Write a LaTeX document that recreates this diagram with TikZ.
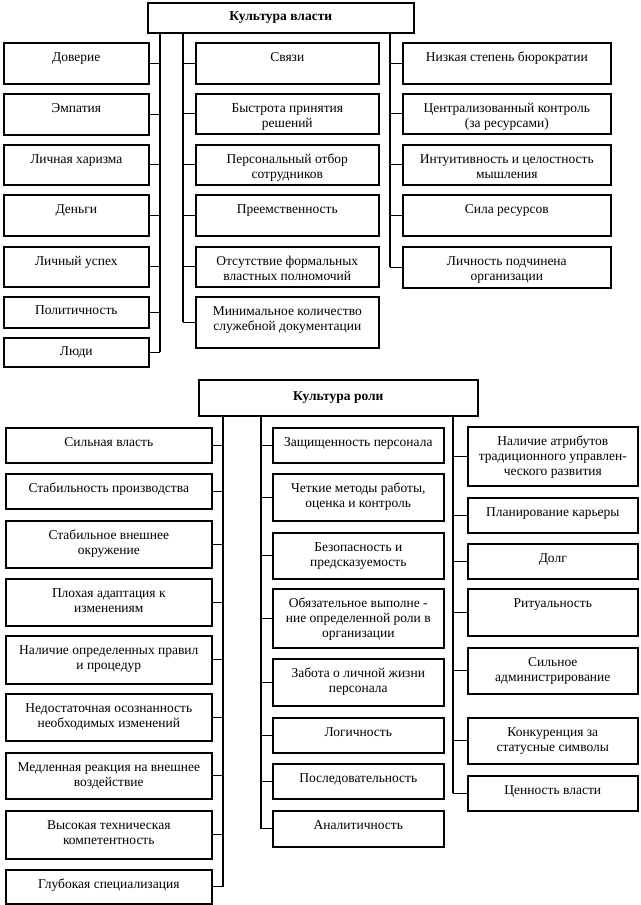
\documentclass[tikz,border=0pt]{standalone}
\usepackage{fontspec}
\setmainfont{Liberation Serif}
\usepackage{tikz}
\usetikzlibrary{calc}
\usepackage{xcolor}

\begin{document}
\begin{tikzpicture}[x=1pt,y=-1pt,font=\fontsize{13.5}{15}\selectfont]
    \tikzstyle{box}=[draw,line width=1.6pt,anchor=north west,inner sep=0pt]
    \tikzstyle{txt}=[anchor=north,yshift=-8pt,inner sep=2pt,align=center]
    \tikzstyle{bus}=[draw,line width=1.2pt]
    \useasboundingbox[fill=white] (0,0) rectangle (640,905);

% culture of power
    \node(T1)[box,minimum width=266,minimum height=30] at (147,2) {\textbf{Культура власти}};
    \coordinate (ta) at (160,0);
    \coordinate (tb) at (183,0);
    \coordinate (tc) at (390,0);

    \node(a1)[box,minimum width=145,minimum height=41,label={[txt]north:Доверие}] at (3,42) {};
    \node(a2)[box,minimum width=145,minimum height=41,label={[txt]north:Эмпатия}] at (3,93) {};
    \node(a3)[box,minimum width=145,minimum height=40,label={[txt]north:Личная харизма}] at (3,144) {};
    \node(a4)[box,minimum width=145,minimum height=41,label={[txt]north:Деньги}] at (3,194) {};
    \node(a5)[box,minimum width=145,minimum height=40,label={[txt]north:Личный успех}] at (3,246) {};
    \node(a6)[box,minimum width=145,minimum height=31,label={[txt,yshift=1pt]north:Политичность}] at (3,296) {};
    \node(a7)[box,minimum width=145,minimum height=29,label={[txt,yshift=1pt]north:Люди}] at (3,337) {};

    \node(b1)[box,minimum width=183,minimum height=41,label={[txt]north:Связи}] at (195,42) {};
    \node(b2)[box,minimum width=183,minimum height=40,label={[txt]north:Быстрота принятия\\решений}] at (195,93) {};
    \node(b3)[box,minimum width=183,minimum height=40,label={[txt]north:Персональный отбор\\сотрудников}] at (195,144) {};
    \node(b4)[box,minimum width=183,minimum height=41,label={[txt]north:Преемственность}] at (195,194) {};
    \node(b5)[box,minimum width=183,minimum height=40,label={[txt]north:Отсутствие формальных\\властных полномочий}] at (195,246) {};
    \node(b6)[box,minimum width=183,minimum height=51,label={[txt]north:Минимальное количество\\служебной документации}] at (195,296) {};

    \node(c1)[box,minimum width=208,minimum height=41,label={[txt]north:Низкая степень бюрократии}] at (402,42) {};
    \node(c2)[box,minimum width=208,minimum height=40,label={[txt]north:Централизованный контроль\\(за ресурсами)}] at (402,93) {};
    \node(c3)[box,minimum width=208,minimum height=40,label={[txt]north:Интуитивность и целостность\\мышления}] at (402,144) {};
    \node(c4)[box,minimum width=208,minimum height=41,label={[txt]north:Сила ресурсов}] at (402,194) {};
    \node(c5)[box,minimum width=208,minimum height=41,label={[txt]north:Личность подчинена\\организации}] at (402,246) {};

% buses
    \draw[bus] (T1.south -| ta) -- (a7.east -| ta);
    \draw[bus] (T1.south -| tb) -- (b6.west -| tb);
    \draw[bus] (T1.south -| tc) -- (c5.west -| tc);
    \foreach \n in {a1,a2,a3,a4,a5,a6,a7} \draw[bus] (\n.east) -- (\n.east -| ta);
    \foreach \n in {b1,b2,b3,b4,b5,b6} \draw[bus] (\n.west) -- (\n.west -| tb);
    \foreach \n in {c1,c2,c3,c4,c5} \draw[bus] (\n.west) -- (\n.west -| tc);

% culture of role
    \node(T2)[box,minimum width=279,minimum height=36] at (198,379) {\textbf{Культура роли}};
    \coordinate (td) at (223,0);
    \coordinate (te) at (261,0);
    \coordinate (tf) at (453,0);

    \node(d1)[box,minimum width=206,minimum height=35,label={[txt]north:Сильная власть}] at (5,427) {};
    \node(d2)[box,minimum width=206,minimum height=35,label={[txt]north:Стабильность производства}] at (5,473) {};
    \node(d3)[box,minimum width=206,minimum height=47,label={[txt]north:Стабильное внешнее\\окружение}] at (5,520) {};
    \node(d4)[box,minimum width=206,minimum height=47,label={[txt]north:Плохая адаптация к\\изменениям}] at (5,578) {};
    \node(d5)[box,minimum width=206,minimum height=48,label={[txt]north:Наличие определенных правил\\и процедур}] at (5,635) {};
    \node(d6)[box,minimum width=206,minimum height=47,label={[txt]north:Недостаточная осознанность\\необходимых изменений}] at (5,693) {};
    \node(d7)[box,minimum width=206,minimum height=46,label={[txt]north:Медленная реакция на внешнее\\воздействие}] at (5,752) {};
    \node(d8)[box,minimum width=206,minimum height=48,label={[txt]north:Высокая техническая\\компетентность}] at (5,810) {};
    \node(d9)[box,minimum width=206,minimum height=34,label={[txt]north:Глубокая специализация}] at (5,869) {};

    \node(e1)[box,minimum width=171,minimum height=35,label={[txt]north:Защищенность персонала}] at (272,427) {};
    \node(e2)[box,minimum width=171,minimum height=47,label={[txt]north:Четкие методы работы,\\оценка и контроль}] at (272,473) {};
    \node(e3)[box,minimum width=171,minimum height=46,label={[txt]north:Безопасность и\\предсказуемость}] at (272,532) {};
    \node(e4)[box,minimum width=171,minimum height=59,label={[txt]north:Обязательное выполне -\\ние определенной роли в\\организации}] at (272,588) {};
    \node(e5)[box,minimum width=171,minimum height=47,label={[txt]north:Забота о личной жизни\\персонала}] at (272,658) {};
    \node(e6)[box,minimum width=171,minimum height=35,label={[txt]north:Логичность}] at (272,717) {};
    \node(e7)[box,minimum width=171,minimum height=35,label={[txt]north:Последовательность}] at (272,763) {};
    \node(e8)[box,minimum width=171,minimum height=36,label={[txt]north:Аналитичность}] at (272,810) {};

    \node(f1)[box,minimum width=170,minimum height=59,label={[txt]north:Наличие атрибутов\\традиционного управлен-\\ческого развития}] at (467,426) {};
    \node(f2)[box,minimum width=170,minimum height=35,label={[txt]north:Планирование карьеры}] at (467,497) {};
    \node(f3)[box,minimum width=170,minimum height=35,label={[txt]north:Долг}] at (467,543) {};
    \node(f4)[box,minimum width=170,minimum height=47,label={[txt]north:Ритуальность}] at (467,588) {};
    \node(f5)[box,minimum width=170,minimum height=46,label={[txt]north:Сильное\\администрирование}] at (467,647) {};
    \node(f6)[box,minimum width=170,minimum height=46,label={[txt]north:Конкуренция за\\статусные символы}] at (467,717) {};
    \node(f7)[box,minimum width=170,minimum height=35,label={[txt]north:Ценность власти}] at (467,775) {};

% buses
    \draw[bus] (T2.south -| td) -- (d9.east -| td);
    \draw[bus] (T2.south -| te) -- (e8.west -| te);
    \draw[bus] (T2.south -| tf) -- (f7.west -| tf);
    \foreach \n in {d1,d2,d3,d4,d5,d6,d7,d8,d9} \draw[bus] (\n.east) -- (\n.east -| td);
    \foreach \n in {e1,e2,e3,e4,e5,e6,e7,e8} \draw[bus] (\n.west) -- (\n.west -| te);
    \foreach \n in {f1,f2,f3,f4,f5,f6,f7} \draw[bus] (\n.west) -- (\n.west -| tf);
\end{tikzpicture}
\end{document}
